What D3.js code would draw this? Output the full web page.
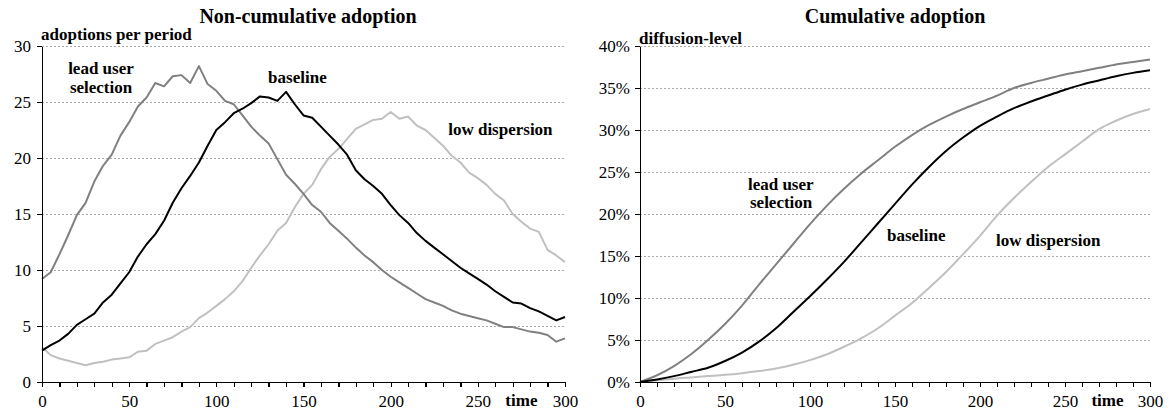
<!DOCTYPE html>
<meta charset="utf-8">
<style>
body { margin: 0; background: #fff; }
svg text { font-family: "Liberation Serif", "Times New Roman", serif; fill: #000; }
.axis path, .axis line { stroke: #000; stroke-width: 1.3; shape-rendering: crispEdges; }
.axis text { font-size: 17px; }
.grid line { stroke: #aaa; stroke-width: 1; stroke-dasharray: 2,2; shape-rendering: crispEdges; }
.title { font-size: 20px; font-weight: bold; }
.lbl { font-size: 17px; font-weight: bold; }
path.series { fill: none; stroke-width: 2; stroke-linejoin: round; }
</style>
<body>
<div id="chart"></div>
<script src="https://cdn.jsdelivr.net/npm/d3@7/dist/d3.min.js"></script>
<script>
// time steps for the non-cumulative panel
var periods = [0,5,10,15,20,25,30,35,40,45,50,55,60,65,70,75,80,85,90,95,
  100,105,110,115,120,125,130,135,140,145,150,155,160,165,170,175,180,185,190,195,
  200,205,210,215,220,225,230,235,240,245,250,255,260,265,270,275,280,285,290,295,300];

var leadUserRate = [9.2,9.8,11.4,13.1,14.9,16.0,17.9,19.3,20.3,22.0,23.2,24.6,25.4,26.7,26.4,27.3,27.4,26.7,28.2,26.6,
  26.0,25.1,24.8,23.8,22.8,22.0,21.3,19.9,18.5,17.7,16.8,15.8,15.2,14.2,13.5,12.8,12.0,11.3,10.7,10.0,
  9.4,8.9,8.4,7.9,7.4,7.1,6.8,6.4,6.1,5.9,5.7,5.5,5.2,4.9,4.9,4.7,4.5,4.4,4.2,3.6,3.9];

var baselineRate = [2.8,3.3,3.7,4.3,5.1,5.6,6.1,7.1,7.8,8.8,9.8,11.2,12.3,13.2,14.4,16.0,17.3,18.4,19.6,21.1,
  22.5,23.2,24.0,24.4,24.9,25.5,25.4,25.1,25.9,24.8,23.8,23.6,22.8,22.0,21.2,20.3,18.9,18.1,17.5,16.8,
  15.8,14.9,14.2,13.3,12.6,12.0,11.4,10.8,10.2,9.7,9.2,8.7,8.1,7.6,7.1,7.0,6.6,6.3,5.9,5.5,5.8];

var lowDispRate = [3.1,2.4,2.1,1.9,1.7,1.5,1.7,1.8,2.0,2.1,2.2,2.7,2.8,3.4,3.7,4.0,4.5,4.9,5.7,6.2,
  6.8,7.4,8.1,9.0,10.2,11.3,12.3,13.5,14.2,15.6,16.8,17.6,19.0,20.1,20.8,21.7,22.6,23.0,23.4,23.5,
  24.1,23.5,23.7,22.9,22.5,21.8,21.1,20.2,19.6,18.7,18.2,17.6,16.8,16.2,15.0,14.3,13.7,13.4,11.8,11.3,10.7];

// time steps for the cumulative panel
var periodsCum = [0,10,20,30,40,50,60,70,80,90,100,110,120,130,140,150,
  160,170,180,190,200,210,220,230,240,250,260,270,280,290,300];

var leadUserCum = [0,0.8,1.9,3.3,5.0,6.9,9.1,11.6,14.0,16.4,18.8,21.0,23.0,24.8,26.4,28.0,
  29.4,30.6,31.6,32.5,33.3,34.1,35.0,35.6,36.1,36.6,37.0,37.4,37.8,38.1,38.4];

var baselineCum = [0,0.3,0.7,1.2,1.7,2.5,3.5,4.8,6.4,8.3,10.2,12.2,14.3,16.6,18.9,21.2,
  23.5,25.6,27.5,29.1,30.5,31.6,32.6,33.4,34.1,34.8,35.4,35.9,36.4,36.8,37.1];

var lowDispCum = [0,0.2,0.4,0.55,0.7,0.85,1.05,1.3,1.6,2.05,2.6,3.3,4.2,5.2,6.4,7.9,
  9.4,11.2,13.1,15.2,17.4,19.8,21.9,23.8,25.6,27.1,28.6,30.1,31.1,31.9,32.5];

var rateTicks = [0,5,10,15,20,25,30];
var cumTicks = [0,5,10,15,20,25,30,35,40];
var timeTicks = [0,10,20,30,40,50,60,70,80,90,100,110,120,130,140,150,160,170,180,190,200,210,220,230,240,250,260,270,280,290,300];

var colors = {lead: "#808080", base: "#000000", low: "#c0c0c0"};
var serif = "'Liberation Serif', 'Times New Roman', serif";

var svg = d3.select("#chart").append("svg")
  .attr("width", 1170).attr("height", 414)
  .attr("font-family", serif);

function panel(opt) {
  var x = d3.scaleLinear().domain([0, 300]).range([opt.left, opt.right]);
  var y = d3.scaleLinear().domain([0, opt.ymax]).range([382, 46]);
  var g = svg.append("g");

  // dotted grid
  g.append("g").attr("class", "grid").selectAll("line")
    .data(opt.yticks.filter(function(d) { return d > 0; }))
    .enter().append("line")
    .attr("x1", opt.left).attr("x2", opt.right)
    .attr("y1", function(d) { return Math.round(y(d)) + 0.5; })
    .attr("y2", function(d) { return Math.round(y(d)) + 0.5; });

  var line = d3.line()
    .curve(opt.curve)
    .x(function(d) { return x(d[0]); })
    .y(function(d) { return y(d[1]); });

  opt.series.forEach(function(s) {
    g.append("path").attr("class", "series")
      .attr("d", line(opt.xs.map(function(t, i) { return [t, s.values[i]]; })))
      .style("stroke", s.color);
  });

  g.append("g").attr("class", "axis")
    .attr("transform", "translate(0,382)")
    .call(d3.axisBottom(x).tickValues(timeTicks).tickSize(5).tickSizeOuter(0).tickPadding(8)
      .tickFormat(function(d) { return d % 50 === 0 ? d : ""; }))
    .attr("font-family", serif).attr("font-size", 17);

  g.append("g").attr("class", "axis")
    .attr("transform", "translate(" + opt.left + ",0)")
    .call(d3.axisLeft(y).tickValues(opt.yticks).tickSize(5).tickSizeOuter(0).tickPadding(opt.pad)
      .tickFormat(opt.fmt))
    .attr("font-family", serif).attr("font-size", 17);

  g.append("text").attr("class", "title")
    .attr("x", opt.titleX).attr("y", 23).attr("text-anchor", "middle").text(opt.title);
  g.append("text").attr("class", "lbl")
    .attr("x", opt.left - 1).attr("y", opt.ylabY).text(opt.ylabel);
  g.append("text").attr("class", "lbl")
    .attr("x", x(opt.timeAt)).attr("y", 406).attr("text-anchor", "middle").text("time");

  opt.labels.forEach(function(l) {
    g.append("text").attr("class", "lbl")
      .attr("x", x(l[0])).attr("y", y(l[1])).text(l[2]);
  });
}

panel({
  left: 42, right: 565, ymax: 30, yticks: rateTicks, pad: 6,
  fmt: function(d) { return d; },
  xs: periods, curve: d3.curveLinear,
  series: [
    {values: lowDispRate, color: colors.low},
    {values: leadUserRate, color: colors.lead},
    {values: baselineRate, color: colors.base}
  ],
  title: "Non-cumulative adoption", titleX: 308,
  ylabel: "adoptions per period", ylabY: 40, timeAt: 275,
  labels: [[15, 27.5, "lead user"], [16, 25.8, "selection"], [129.7, 26.7, "baseline"], [233, 22.05, "low dispersion"]]
});

panel({
  left: 640, right: 1150, ymax: 40, yticks: cumTicks, pad: 5,
  fmt: function(d) { return d + "%"; },
  xs: periodsCum, curve: d3.curveMonotoneX,
  series: [
    {values: lowDispCum, color: colors.low},
    {values: leadUserCum, color: colors.lead},
    {values: baselineCum, color: colors.base}
  ],
  title: "Cumulative adoption", titleX: 895,
  ylabel: "diffusion-level", ylabY: 44, timeAt: 275,
  labels: [[63.5, 22.86, "lead user"], [64.7, 20.7, "selection"], [145.3, 16.8, "baseline"], [209.4, 16.2, "low dispersion"]]
});
</script>
</body>
